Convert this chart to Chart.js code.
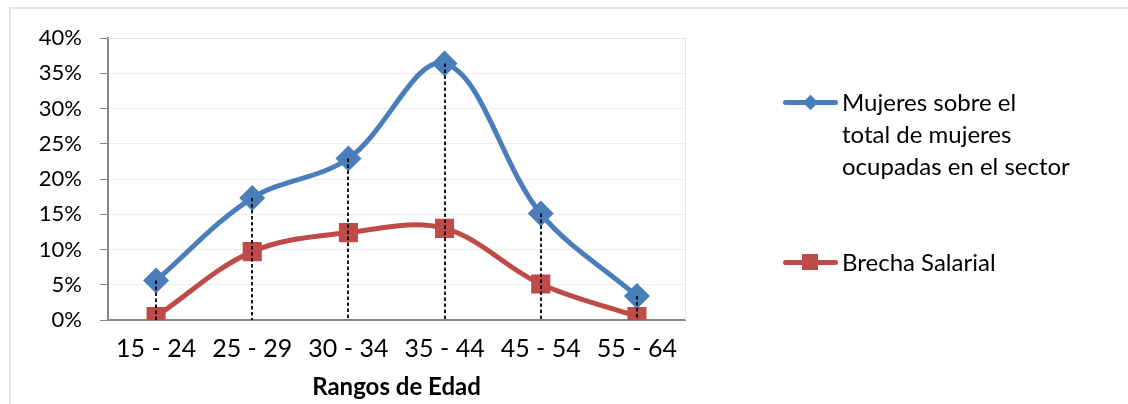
<!DOCTYPE html>
<html>
<head>
<meta charset="utf-8">
<script src="https://cdn.jsdelivr.net/npm/chart.js@4"></script>
<style>
  html, body { margin: 0; padding: 0; background: #ffffff; overflow: hidden; }
  #wrap { position: relative; width: 1128px; height: 404px; }
  #frame { position: absolute; left: 9px; top: 7px; width: 1200px; height: 500px; border: 2px solid #e4e4e4; box-sizing: border-box; }
  canvas { position: absolute; left: 0; top: 0; }
  .leg { position: absolute; font-family: Lato, "Open Sans", sans-serif; font-size: 24px; color: #000; line-height: 32px; white-space: nowrap; }
  .legline { position: absolute; height: 5px; border-radius: 2.5px; }
  .diamond { position: absolute; width: 11px; height: 11px; transform: rotate(45deg); background: #4a7ebb; }
  .square { position: absolute; width: 16px; height: 16px; background: #be4b48; }
</style>
</head>
<body>
<div id="wrap">
  <div id="frame"></div>
  <canvas id="c" width="1128" height="404"></canvas>
  <div class="legline" style="left:783px; top:100px; width:55px; background:#4a7ebb;"></div>
  <div class="diamond" style="left:805px; top:97px;"></div>
  <div class="leg" id="leg1" style="left:842px; top:86px;"></div>
  <div class="legline" style="left:783px; top:260px; width:55px; background:#be4b48;"></div>
  <div class="square" style="left:802px; top:254px;"></div>
  <div class="leg" id="leg2" style="left:842px; top:246px;"></div>
</div>
<script>
const categories = ['15 - 24', '25 - 29', '30 - 34', '35 - 44', '45 - 54', '55 - 64'];
const mujeresOcupadas = [0.056, 0.173, 0.229, 0.364, 0.151, 0.034];
const brechaSalarial = [0.005, 0.097, 0.124, 0.130, 0.051, 0.005];
const yTicks = [0, 0.05, 0.10, 0.15, 0.20, 0.25, 0.30, 0.35, 0.40];
const seriesNames = ['Mujeres sobre el\ntotal de mujeres\nocupadas en el sector', 'Brecha Salarial'];
const axisTitle = 'Rangos de Edad';

document.getElementById('leg1').innerHTML = seriesNames[0].split('\n').join('<br>');
document.getElementById('leg2').textContent = seriesNames[1];

const FONT = 'Lato, "Open Sans", sans-serif';

const dropLines = {
  id: 'dropLines',
  afterDatasetsDraw(chart) {
    const meta = chart.getDatasetMeta(0);
    const y0 = chart.scales.y.getPixelForValue(0);
    const ctx = chart.ctx;
    ctx.save();
    ctx.strokeStyle = '#000000';
    ctx.lineWidth = 1.8;
    ctx.setLineDash([3.5, 2.5]);
    meta.data.forEach(pt => {
      ctx.beginPath();
      ctx.moveTo(Math.round(pt.x), pt.y);
      ctx.lineTo(Math.round(pt.x), y0);
      ctx.stroke();
    });
    ctx.restore();
  }
};

const plotBorder = {
  id: 'plotBorder',
  beforeDatasetsDraw(chart) {
    const a = chart.chartArea;
    const ctx = chart.ctx;
    ctx.save();
    ctx.strokeStyle = '#e6e6e6';
    ctx.lineWidth = 1;
    ctx.beginPath();
    ctx.moveTo(a.left, a.top + 0.5);
    ctx.lineTo(a.right + 0.5, a.top + 0.5);
    ctx.lineTo(a.right + 0.5, a.bottom);
    ctx.stroke();
    ctx.restore();
  }
};

new Chart(document.getElementById('c'), {
  type: 'line',
  data: {
    labels: categories,
    datasets: [
      {
        label: seriesNames[0],
        data: mujeresOcupadas,
        borderColor: '#4a7ebb',
        backgroundColor: '#4a7ebb',
        borderWidth: 5,
        tension: 0.35,
        pointStyle: 'rectRot',
        pointRadius: 13,
        pointBorderWidth: 0,
        pointBackgroundColor: '#4a7ebb'
      },
      {
        label: seriesNames[1],
        data: brechaSalarial,
        borderColor: '#be4b48',
        backgroundColor: '#be4b48',
        borderWidth: 5,
        tension: 0.35,
        pointStyle: 'rect',
        pointRadius: 13.5,
        pointBorderWidth: 0,
        pointBackgroundColor: '#be4b48'
      }
    ]
  },
  plugins: [plotBorder, dropLines],
  options: {
    responsive: false,
    animation: false,
    layout: { padding: { left: 0, right: 443, top: 38, bottom: 0 } },
    plugins: {
      legend: { display: false },
      tooltip: { enabled: false }
    },
    scales: {
      x: {
        offset: true,
        grid: { display: false, drawTicks: false },
        border: { display: true, color: '#868686', width: 2 },
        ticks: { color: '#000', font: { family: FONT, size: 25 }, padding: 14, maxRotation: 0 },
        title: { display: true, text: axisTitle, color: '#000', font: { family: FONT, size: 24, weight: 'bold' }, padding: { top: 0, bottom: 2 } },
        afterFit(scale) { scale.height = 84; }
      },
      y: {
        min: 0,
        max: 0.4,
        afterBuildTicks(scale) { scale.ticks = yTicks.map(v => ({ value: v })); },
        grid: { color: '#ececec', lineWidth: 1, drawTicks: true, tickLength: 8, tickColor: '#868686' },
        border: { display: true, color: '#868686', width: 2 },
        ticks: {
          color: '#000',
          font: { family: FONT, size: 22 },
          padding: 18,
          callback: v => Math.round(v * 100) + '%'
        },
        afterFit(scale) { scale.width = 108; }
      }
    }
  }
});
</script>
</body>
</html>
